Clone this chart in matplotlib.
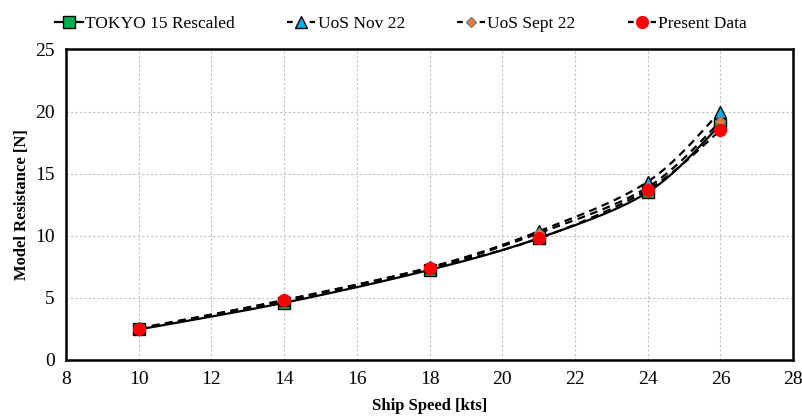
import numpy as np
import matplotlib
matplotlib.use("Agg")
import matplotlib.pyplot as plt
from matplotlib.lines import Line2D

plt.rcParams['font.family'] = ['Liberation Serif', 'DejaVu Serif']

speed = [10, 14, 18, 21, 24, 26]
tokyo = [2.45, 4.6, 7.25, 9.8, 13.5, 18.95]
uos_nov = [2.55, 4.8, 7.45, 10.35, 14.35, 20.0]
uos_sept = [2.5, 4.75, 7.4, 10.2, 13.9, 19.2]
present = [2.5, 4.82, 7.4, 9.78, 13.7, 18.5]

labels = ["TOKYO 15 Rescaled", "UoS Nov 22", "UoS Sept 22", "Present Data"]


def smooth(x, y, n=30):
    x = np.asarray(x, float); y = np.asarray(y, float)
    P = np.column_stack([x, y])
    out = []
    m = len(P)
    for i in range(m - 1):
        p0 = P[max(i - 1, 0)]; p1 = P[i]; p2 = P[i + 1]; p3 = P[min(i + 2, m - 1)]
        c1 = p1 + (p2 - p0) / 6.0
        c2 = p2 - (p3 - p1) / 6.0
        t = np.linspace(0, 1, n)[:, None]
        seg = (1 - t) ** 3 * p1 + 3 * (1 - t) ** 2 * t * c1 + 3 * (1 - t) * t ** 2 * c2 + t ** 3 * p2
        out.append(seg if i == 0 else seg[1:])
    s = np.vstack(out)
    return s[:, 0], s[:, 1]


fig = plt.figure(figsize=(8.02, 4.19), dpi=100)
ax = fig.add_axes([0.0823, 0.141, 0.9067, 0.741])

dash = (0, (3.5, 2.5))
series = [
    (tokyo, '-', 's', '#00B050', 'black', 8),
    (uos_nov, dash, '^', '#00B0F0', 'black', 8),
    (uos_sept, dash, 'D', '#ED7D31', '#7F7F7F', 5.5),
    (present, dash, 'o', '#FF0000', '#FF0000', 8.5),
]

for (vals, ls, mk, fc, ec, ms) in series:
    sx, sy = smooth(speed, vals)
    ax.plot(sx, sy, color='black', linestyle=ls, linewidth=1.6, zorder=2)
for (vals, ls, mk, fc, ec, ms) in series:
    ax.plot(speed, vals, linestyle='none', marker=mk, markersize=ms,
            markerfacecolor=fc, markeredgecolor=ec, markeredgewidth=1.0, zorder=3)

ax.set_xlim(8, 28)
ax.set_ylim(0, 25)
ax.set_xticks(range(8, 29, 2))
ax.set_yticks(range(0, 26, 5))
ax.grid(True, color='#BFBFBF', linestyle=(0, (2, 2)), linewidth=0.8)
ax.set_axisbelow(True)
for sp in ax.spines.values():
    sp.set_linewidth(1.8)
ax.tick_params(axis='both', length=0, labelsize=14, pad=8)
ax.set_xlabel('Ship Speed [kts]', fontsize=12, fontweight='bold', labelpad=7)
ax.set_ylabel('Model Resistance [N]', fontsize=12, fontweight='bold', labelpad=4)

legend_dash = (0, (2.6, 7.6))
handles = []
for (vals, ls, mk, fc, ec, ms), lab in zip(series, labels):
    hls = '-' if ls == '-' else legend_dash
    handles.append(Line2D([], [], color='black', linestyle=hls, linewidth=1.6, marker=mk,
                          markersize=ms, markerfacecolor=fc, markeredgecolor=ec, label=lab))
fig.legend(handles=handles, loc='upper center', bbox_to_anchor=(0.5, 1.0), ncol=4,
           frameon=False, fontsize=12.5, handlelength=1.6, handletextpad=0.15, columnspacing=3.0)

fig.savefig('out.png', dpi=100)
